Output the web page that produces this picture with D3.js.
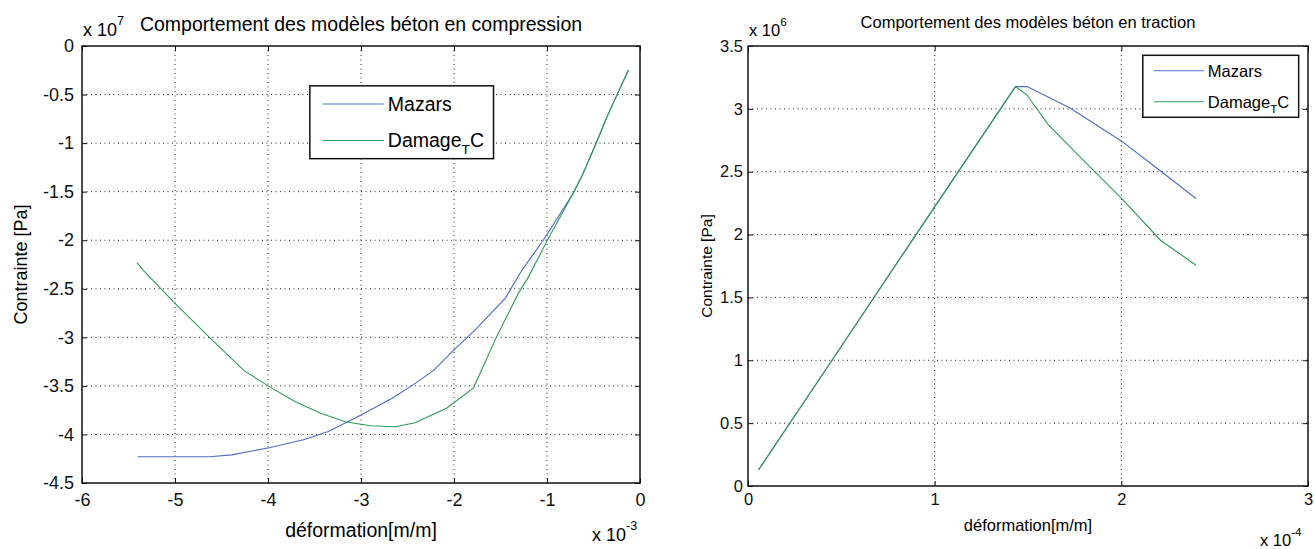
<!DOCTYPE html>
<html lang="fr">
<head>
    <meta charset="utf-8">
    <title>Comportement des modèles béton</title>
    <script src="https://cdn.jsdelivr.net/npm/d3@7/dist/d3.min.js"></script>
    <style>
        body { margin: 0; background: #fff; }
        svg { display: block; font-family: "Liberation Sans", Arial, sans-serif; }
    </style>
</head>
<body>
<div id="container"></div>
<script>
    // compression : deformation x 1e-3, contrainte x 1e7 Pa
    var compTicksX = [-6, -5, -4, -3, -2, -1, 0];
    var compTicksY = [-4.5, -4, -3.5, -3, -2.5, -2, -1.5, -1, -0.5, 0];
    var compMazarsX = [-5.40, -4.63, -4.39, -4.00, -3.62, -3.35, -3.00, -2.67, -2.44, -2.22, -2.00, -1.77, -1.45, -1.27, -1.04, -0.72, -0.63, -0.475, -0.36, -0.126];
    var compMazarsY = [-4.23, -4.23, -4.21, -4.14, -4.055, -3.97, -3.80, -3.63, -3.49, -3.34, -3.13, -2.92, -2.60, -2.31, -2.00, -1.52, -1.35, -1.01, -0.74, -0.25];
    var compDamageX = [-5.41, -5.34, -5.00, -4.63, -4.26, -4.00, -3.71, -3.44, -3.17, -2.90, -2.63, -2.42, -2.08, -1.79, -1.54, -1.31, -1.20, -0.996, -0.72, -0.63, -0.475, -0.36, -0.126];
    var compDamageY = [-2.23, -2.31, -2.65, -3.00, -3.34, -3.50, -3.66, -3.78, -3.87, -3.91, -3.92, -3.88, -3.73, -3.52, -2.99, -2.55, -2.38, -2.00, -1.52, -1.35, -1.01, -0.74, -0.25];

    // traction : deformation x 1e-4, contrainte x 1e6 Pa
    var tracTicksX = [0, 1, 2, 3];
    var tracTicksY = [0, 0.5, 1, 1.5, 2, 2.5, 3, 3.5];
    var tracMazarsX = [0.056, 0.45, 0.90, 1.433, 1.495, 1.72, 2.00, 2.21, 2.40];
    var tracMazarsY = [0.127, 1.00, 2.00, 3.177, 3.177, 3.01, 2.745, 2.506, 2.287];
    var tracDamageX = [0.056, 0.45, 0.90, 1.433, 1.495, 1.607, 1.764, 2.00, 2.21, 2.40];
    var tracDamageY = [0.127, 1.00, 2.00, 3.177, 3.11, 2.877, 2.64, 2.29, 1.955, 1.756];

    var blue = "#4f6cc6";
    var green = "#2f9a5a";

    var svg = d3.select("div#container")
        .append("svg")
        .attr("width", 1315)
        .attr("height", 549)
        .style("background-color", "white");

    function panel(o) {
        var x = d3.scaleLinear().domain(o.xDomain).range([o.left, o.right]);
        var y = d3.scaleLinear().domain(o.yDomain).range([o.bottom, o.top]);
        var g = svg.append("g");
        var fmt = function(d) { return String(d); };

        // dotted grid
        g.selectAll(".gx").data(o.xTicks.slice(1, -1)).enter().append("line")
            .attr("x1", function(d) { return x(d); })
            .attr("x2", function(d) { return x(d); })
            .attr("y1", o.top).attr("y2", o.bottom)
            .attr("stroke", "#222").attr("stroke-dasharray", "1,3.5");
        g.selectAll(".gy").data(o.yTicks.slice(1, -1)).enter().append("line")
            .attr("y1", function(d) { return y(d); })
            .attr("y2", function(d) { return y(d); })
            .attr("x1", o.left).attr("x2", o.right)
            .attr("stroke", "#222").attr("stroke-dasharray", "1,3.5");

        // curves
        var line = d3.line()
            .x(function(d) { return x(d[0]); })
            .y(function(d) { return y(d[1]); });
        o.series.forEach(function(s) {
            g.append("path")
                .datum(d3.zip(s.x, s.y))
                .attr("d", line)
                .attr("fill", "none")
                .attr("stroke", s.color)
                .attr("stroke-width", 1.1);
        });

        // box
        g.append("rect")
            .attr("x", o.left).attr("y", o.top)
            .attr("width", o.right - o.left).attr("height", o.bottom - o.top)
            .attr("fill", "none").attr("stroke", "#111").attr("stroke-width", 1.5);

        // axes, ticks pointing inward
        function styleAxis(a) {
            a.select(".domain").remove();
            a.attr("font-size", o.fs).attr("font-family", "Liberation Sans, Arial, sans-serif");
            a.selectAll("line").attr("stroke", "#111");
            a.selectAll("text").attr("fill", "#111");
        }
        g.append("g").attr("transform", "translate(0," + o.bottom + ")")
            .call(d3.axisBottom(x).tickValues(o.xTicks).tickFormat(fmt).tickSizeInner(-5).tickSizeOuter(0).tickPadding(o.padX))
            .call(styleAxis);
        g.append("g").attr("transform", "translate(" + o.left + ",0)")
            .call(d3.axisLeft(y).tickValues(o.yTicks).tickFormat(fmt).tickSizeInner(-5).tickSizeOuter(0).tickPadding(o.padY))
            .call(styleAxis);
        g.append("g").attr("transform", "translate(0," + o.top + ")")
            .call(d3.axisTop(x).tickValues(o.xTicks).tickFormat("").tickSizeInner(-5).tickSizeOuter(0))
            .call(styleAxis);
        g.append("g").attr("transform", "translate(" + o.right + ",0)")
            .call(d3.axisRight(y).tickValues(o.yTicks).tickFormat("").tickSizeInner(-5).tickSizeOuter(0))
            .call(styleAxis);

        // title and labels
        g.append("text")
            .attr("x", (o.left + o.right) / 2).attr("y", o.titleY)
            .attr("text-anchor", "middle").attr("font-size", o.titleFs)
            .text(o.title);
        g.append("text")
            .attr("x", (o.left + o.right) / 2).attr("y", o.xLabelY)
            .attr("text-anchor", "middle").attr("font-size", o.labelFs)
            .text("déformation[m/m]");
        g.append("text")
            .attr("transform", "translate(" + o.yLabelX + "," + ((o.top + o.bottom) / 2) + ") rotate(-90)")
            .attr("text-anchor", "middle").attr("font-size", o.yLabelFs)
            .text("Contrainte [Pa]");

        // exponents
        function expo(px, py, e) {
            var t = g.append("text").attr("x", px).attr("y", py).attr("font-size", o.fs);
            t.append("tspan").text("x 10");
            t.append("tspan").attr("dy", -o.fs * 0.6).attr("font-size", o.fs * 0.7).text(e);
        }
        expo(o.left + 1, o.top - 10, o.yExp);
        expo(o.right - 48, o.xExpY, o.xExp);

        // legend
        var L = o.legend;
        var lx0 = x(L.x0), lx1 = x(L.x1), ly0 = y(L.y0), ly1 = y(L.y1);
        g.append("rect")
            .attr("x", lx0).attr("y", ly0)
            .attr("width", lx1 - lx0).attr("height", ly1 - ly0)
            .attr("fill", "white").attr("stroke", "#111").attr("stroke-width", 1.5);
        var rowH = (ly1 - ly0) / 2;
        o.series.forEach(function(s, i) {
            var cy = ly0 + rowH * (i + 0.5);
            g.append("line")
                .attr("x1", lx0 + L.pad).attr("x2", lx0 + L.pad + L.len)
                .attr("y1", cy).attr("y2", cy)
                .attr("stroke", s.color).attr("stroke-width", 1.1);
            var t = g.append("text")
                .attr("x", lx0 + L.pad + L.len + 4).attr("y", cy)
                .attr("dy", "0.35em").attr("font-size", L.fs);
            if (s.name == "Damage") {
                t.append("tspan").text("Damage");
                t.append("tspan").attr("dy", L.fs * 0.35).attr("font-size", L.fs * 0.7).text("T");
                t.append("tspan").attr("dy", -L.fs * 0.35).text("C");
            } else {
                t.text(s.name);
            }
        });
    }

    panel({
        left: 82, right: 640, top: 46, bottom: 483,
        xDomain: [-6, 0], yDomain: [-4.5, 0],
        xTicks: compTicksX, yTicks: compTicksY,
        fs: 18, titleFs: 19.5, labelFs: 19.5, yLabelFs: 18, padX: 10, padY: 8,
        title: "Comportement des modèles béton en compression",
        titleY: 31, xLabelY: 537, yLabelX: 27,
        yExp: "7", xExp: "-3", xExpY: 541,
        legend: { x0: -3.55, x1: -1.575, y0: -0.41, y1: -1.16, pad: 13, len: 61, fs: 19.5 },
        series: [
            { name: "Mazars", color: blue, x: compMazarsX, y: compMazarsY },
            { name: "Damage", color: green, x: compDamageX, y: compDamageY }
        ]
    });

    panel({
        left: 748, right: 1308, top: 46, bottom: 486,
        xDomain: [0, 3], yDomain: [0, 3.5],
        xTicks: tracTicksX, yTicks: tracTicksY,
        fs: 16.5, titleFs: 16.5, labelFs: 16.5, yLabelFs: 15.5, padX: 7, padY: 5,
        title: "Comportement des modèles béton en traction",
        titleY: 28, xLabelY: 531, yLabelX: 712,
        yExp: "6", xExp: "-4", xExpY: 546,
        legend: { x0: 2.115, x1: 2.95, y0: 3.426, y1: 2.933, pad: 11, len: 50, fs: 16.5 },
        series: [
            { name: "Mazars", color: blue, x: tracMazarsX, y: tracMazarsY },
            { name: "Damage", color: green, x: tracDamageX, y: tracDamageY }
        ]
    });
</script>
</body>
</html>
